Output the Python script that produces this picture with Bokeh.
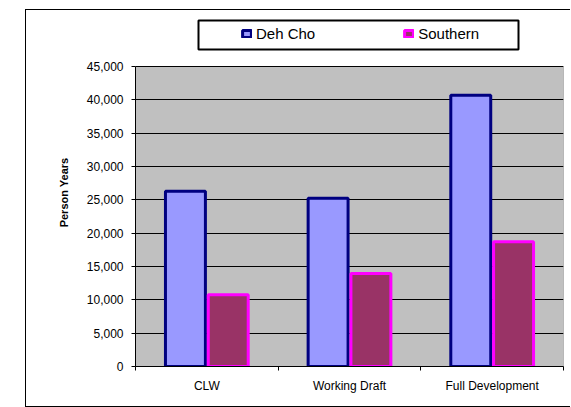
import numpy as np
from bokeh.plotting import figure
from bokeh.models import (ColumnDataSource, Range1d, FixedTicker, NumeralTickFormatter,
                          Legend, LegendItem, BoxAnnotation)
from bokeh.embed import file_html
from bokeh.resources import INLINE

categories = ["CLW", "Working Draft", "Full Development"]
deh_cho = [26300, 25250, 40700]
southern = [10750, 13950, 18700]
y_ticks = [0, 5000, 10000, 15000, 20000, 25000, 30000, 35000, 40000, 45000]
y_max = 45000

FONT = "Liberation Sans"

centers = np.arange(len(categories)) + 0.5
src = ColumnDataSource(dict(
    x_deh=centers - 0.15,
    x_sou=centers + 0.15,
    deh=deh_cho,
    sou=southern,
))

px_per_unit = 300 / y_max
extra_top = 48 / px_per_unit

p = figure(width=545, height=396, output_backend="svg", toolbar_location=None,
           x_range=Range1d(0, len(categories)), y_range=Range1d(0, y_max + extra_top),
           min_border_left=109, min_border_right=8, min_border_top=8, min_border_bottom=40)
p.styles = {"box-shadow": "-1px -1px 0 0 black, -1px 1px 0 0 black",
            "transform": "translate(26px, 10px)"}

p.background_fill_color = "white"
p.border_fill_color = "white"
p.outline_line_color = None

area = BoxAnnotation(bottom=0, top=y_max, fill_color="#C0C0C0", fill_alpha=1,
                     line_color="#808080", line_alpha=1, line_width=1, level="image")
p.add_layout(area)

r1 = p.vbar(x="x_deh", top="deh", width=0.28, source=src,
            fill_color="#9999FF", line_color="#000080", line_width=3)
r2 = p.vbar(x="x_sou", top="sou", width=0.28, source=src,
            fill_color="#993366", line_color="#FF00FF", line_width=3)

xa = p.xaxis[0]
xa.ticker = FixedTicker(ticks=list(centers), minor_ticks=list(range(len(categories) + 1)))
xa.major_label_overrides = {float(c): n for c, n in zip(centers, categories)}
xa.major_tick_in = 0
xa.major_tick_out = 0
xa.minor_tick_in = 0
xa.minor_tick_out = 4
xa.minor_tick_line_color = "black"
xa.axis_line_color = "black"
xa.major_label_text_font = FONT
xa.major_label_text_font_size = "12px"
xa.major_label_text_color = "black"
xa.major_label_standoff = 8

ya = p.yaxis[0]
ya.bounds = (0, y_max)
ya.ticker = FixedTicker(ticks=y_ticks, minor_ticks=[])
ya.formatter = NumeralTickFormatter(format="0,0")
ya.major_tick_in = 0
ya.major_tick_out = 4
ya.major_tick_line_color = "black"
ya.axis_line_color = "black"
ya.major_label_text_font = FONT
ya.major_label_text_font_size = "12px"
ya.major_label_text_color = "black"
ya.major_label_standoff = 8
ya.axis_label = "Person Years"
ya.axis_label_text_font = FONT
ya.axis_label_text_font_size = "11px"
ya.axis_label_text_font_style = "bold"
ya.axis_label_text_color = "black"
ya.axis_label_standoff = 14

p.xgrid.visible = False
p.ygrid.ticker = FixedTicker(ticks=y_ticks)
p.ygrid.grid_line_color = "black"
p.ygrid.grid_line_width = 1

legbox = BoxAnnotation(left=172, right=492, top=10, bottom=39,
                       left_units="canvas", right_units="canvas",
                       top_units="canvas", bottom_units="canvas",
                       fill_color="white", fill_alpha=1, line_color="black",
                       line_alpha=1, line_width=2, level="guide")
p.add_layout(legbox)

legend = Legend(items=[LegendItem(label="Deh Cho", renderers=[r1]),
                       LegendItem(label="Southern", renderers=[r2])],
                orientation="horizontal", location=(106, 324),
                padding=0, margin=0, spacing=88,
                glyph_width=11, glyph_height=9, label_height=12, label_standoff=4,
                label_text_font=FONT, label_text_font_size="15px", label_text_color="black",
                border_line_color=None, background_fill_alpha=0)
p.add_layout(legend, "center")

open("out.html", "w").write(file_html(p, INLINE))
